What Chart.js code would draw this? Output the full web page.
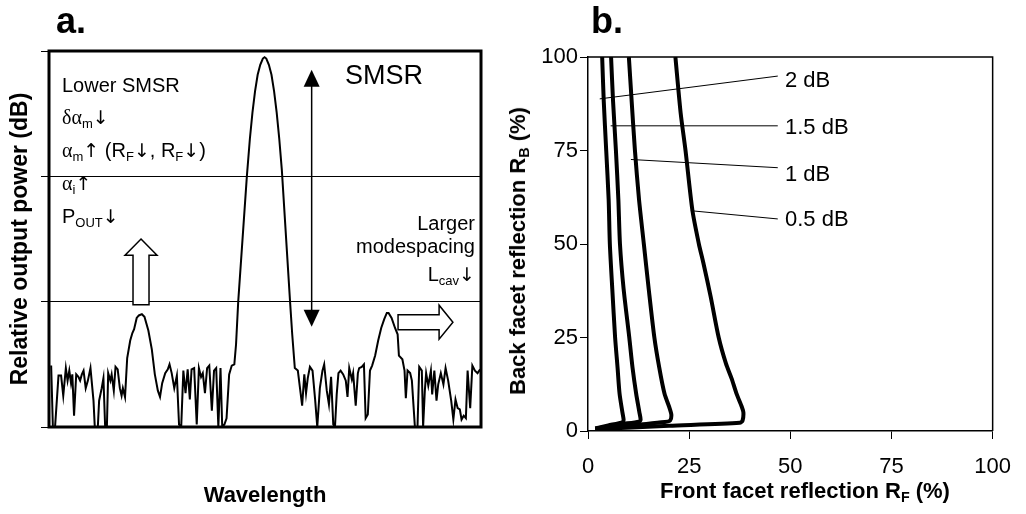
<!DOCTYPE html>
<html>
<head>
<meta charset="utf-8">
<script src="https://cdn.jsdelivr.net/npm/chart.js@4.4.1/dist/chart.umd.min.js"></script>
<style>
  body { margin: 0; background: #fff; }
  #wrap { position: relative; width: 1026px; height: 514px; font-family: "Liberation Sans", Arial, sans-serif; color: #000; }
  canvas { position: absolute; top: 0; }
  #chartA { left: 0; }
  #chartB { left: 500px; }
  .t { position: absolute; line-height: 1; white-space: nowrap; }
  .g { font-family: "Liberation Serif", "Times New Roman", serif; }
  .ar { font-family: "DejaVu Sans", sans-serif; font-size: 0.95em; }
  sub { font-size: 0.65em; vertical-align: -0.3em; line-height: 0; }
</style>
</head>
<body>
<div id="wrap">
  <canvas id="chartA" width="500" height="514"></canvas>
  <canvas id="chartB" width="526" height="514"></canvas>

  <div class="t" style="left:56px; top:3px; font-size:36px; font-weight:bold;">a.</div>
  <div class="t" style="left:591px; top:3px; font-size:36px; font-weight:bold;">b.</div>

  <div class="t" style="left:62px; top:75px; font-size:20px;">Lower SMSR</div>
  <div class="t" style="left:62px; top:107px; font-size:20px;"><span class="g">δα</span><sub>m</sub><span class="ar">↓</span></div>
  <div class="t" style="left:62px; top:140px; font-size:20px;"><span class="g">α</span><sub>m</sub><span class="ar">↑</span> (R<sub>F</sub><span class="ar">↓</span>, R<sub>F</sub><span class="ar">↓</span>)</div>
  <div class="t" style="left:62px; top:173px; font-size:20px;"><span class="g">α</span><sub>i</sub><span class="ar">↑</span></div>
  <div class="t" style="left:62px; top:206px; font-size:20px;">P<sub>OUT</sub><span class="ar">↓</span></div>
  <div class="t" style="left:345px; top:62px; font-size:27px;">SMSR</div>
  <div class="t" style="right:551px; top:213px; font-size:20px; text-align:right;">Larger</div>
  <div class="t" style="right:551px; top:236px; font-size:20px; text-align:right;">modespacing</div>
  <div class="t" style="right:551px; top:264px; font-size:20px; text-align:right;">L<sub>cav</sub><span class="ar">↓</span></div>

  <div class="t" style="left:785px; top:69px; font-size:22px;">2 dB</div>
  <div class="t" style="left:785px; top:116px; font-size:22px;">1.5 dB</div>
  <div class="t" style="left:785px; top:163px; font-size:22px;">1 dB</div>
  <div class="t" style="left:785px; top:208px; font-size:22px;">0.5 dB</div>

  <div class="t" style="left:518px; top:251px; font-size:22px; font-weight:bold; transform:translate(-50%,-50%) rotate(-90deg);">Back facet reflection R<sub>B</sub> (%)</div>
  <div class="t" style="left:805px; top:491px; font-size:22px; font-weight:bold; transform:translate(-50%,-50%);">Front facet reflection R<sub>F</sub> (%)</div>
</div>

<script>
// panel a: spectrum (wavelength in arbitrary units, power in grid divisions)
const wavelength = [
  0.5, 0.9, 1.4, 2.2, 2.8, 3.3, 3.9, 4.3, 4.7, 5.1, 5.4, 5.8, 6.3, 6.8, 7.2, 7.6, 8.0, 8.5, 9.0, 9.6,
  10.3, 10.6, 11.3, 11.6, 12.2, 12.6, 13.0, 13.4, 13.7, 14.2, 14.5, 15.0, 15.4, 15.9, 16.4, 16.8, 17.1, 17.6,
  18.1, 18.8, 19.3, 19.7, 20.3, 20.8, 21.5, 22.1, 23.0, 23.8, 24.5, 25.2, 25.7, 26.2, 26.9, 27.5, 27.9,
  28.4, 29.0, 29.6, 30.1, 30.6, 31.1, 31.6, 32.1, 32.6, 33.0, 33.6, 34.2, 34.7, 35.2, 35.6, 36.1, 36.6,
  37.1, 37.7, 38.2, 38.7, 39.2, 39.7, 40.1, 40.6, 41.1, 41.7, 42.3, 42.9, 43.3, 43.8,
  45.8, 46.5, 47.1, 47.7, 48.3, 48.9, 49.5, 49.9, 50.3, 50.9, 51.5, 52.1, 52.7, 53.3, 53.9,
  55.8, 56.3, 56.9, 57.6, 58.1, 58.6, 59.1, 59.5, 59.9, 60.4, 61.0, 61.6, 62.1, 62.7, 63.3, 63.7, 64.3,
  64.8, 65.3, 65.8, 66.2, 66.6, 67.0, 67.5, 68.1, 68.7, 69.1, 69.5, 70.1, 70.4, 71.0, 71.5, 71.8, 72.4,
  72.9, 73.3, 73.8, 74.3, 74.8, 75.5, 76.2, 76.9, 77.6, 78.2, 78.6, 79.3, 80.1, 80.7, 81.0, 81.8, 82.3,
  82.6, 83.0, 83.6, 84.0, 84.3, 84.7, 85.3, 85.7, 86.3, 86.6, 87.0, 87.3, 87.8, 88.4, 88.7, 89.2, 89.7,
  90.1, 90.7, 91.3, 91.8, 92.4, 93.1, 93.6, 94.1, 94.6, 95.1, 95.5, 96.0, 96.5, 96.9, 97.5, 98.0, 98.6,
  99.2, 99.8
];
const power = [
  0.49, 0, 0, 0.41, 0.41, 0.25, 0.47, 0.37, 0.45, 0.35, 0.42, 0.09, 0.42, 0.40, 0.37, 0.42, 0.45, 0.31, 0.37, 0.47,
  0.21, 0, 0, 0.21, 0.31, 0.39, 0, 0, 0.43, 0.37, 0.42, 0.29, 0.48, 0.46, 0.31, 0.25, 0.31, 0.24,
  0.55, 0.69, 0.75, 0.78, 0.87, 0.89, 0.90, 0.88, 0.77, 0.62, 0.42, 0.29, 0.24, 0.35, 0.43, 0.46, 0.50,
  0.43, 0.31, 0.41, 0.02, 0, 0.45, 0.27, 0.46, 0.22, 0.46, 0.47, 0.02, 0.47, 0.40, 0.43, 0.27, 0.47,
  0.49, 0.13, 0.45, 0.47, 0, 0.47, 0, 0.02, 0.07, 0.42, 0.49, 0.50, 0.66, 1.0,
  2.0, 2.30, 2.51, 2.68, 2.81, 2.89, 2.94, 2.95, 2.94, 2.89, 2.81, 2.68, 2.51, 2.30, 2.05,
  1.0, 0.74, 0.47, 0.45, 0.31, 0.17, 0.42, 0.27, 0.39, 0.48, 0.45, 0.22, 0, 0.31, 0.45, 0.50, 0.29,
  0.18, 0.40, 0.02, 0, 0.26, 0.43, 0.45, 0.42, 0.37, 0.24, 0.47, 0.38, 0.43, 0.17, 0.43, 0.47, 0.48,
  0.50, 0.07, 0.10, 0.45, 0.49, 0.57, 0.69, 0.79, 0.86, 0.91, 0.91, 0.87, 0.79, 0.74, 0.57, 0.54, 0.45,
  0.23, 0.45, 0.43, 0.37, 0.21, 0, 0, 0.48, 0.45, 0, 0.29, 0.43, 0.33, 0.45, 0.26, 0.45, 0.21,
  0.34, 0.43, 0.34, 0.47, 0.37, 0.21, 0.06, 0.22, 0.15, 0.14, 0.06, 0.09, 0.07, 0.45, 0.15, 0.49, 0.45,
  0.43, 0.46
];
const powerGrid = [0, 1, 2, 3];

// panel b: constant-loss curves, front facet RF (%) vs back facet RB (%)
const rf2dB  = [3.5, 3.9, 4.5, 5.1, 5.4, 6.0, 6.7, 7.3, 7.8, 8.5, 8.8, 8.6, 5.0, 1.8];
const rb2dB  = [100, 88, 75, 62, 50, 38, 25, 17, 10, 5, 3, 2.4, 1.5, 0.7];
const rf15dB = [5.7, 6.2, 6.9, 7.5, 7.9, 8.8, 10.2, 11.0, 11.9, 12.7, 13.0, 12.6, 8.0, 1.8];
const rb15dB = [100, 88, 75, 62, 50, 38, 25, 17, 10, 5, 3, 2.5, 1.8, 0.6];
const rf1dB  = [10.1, 10.8, 11.6, 12.6, 13.8, 15.0, 16.4, 17.6, 18.9, 20.2, 20.6, 20.3, 19.0, 1.8];
const rb1dB  = [100, 88, 75, 62, 50, 38, 25, 17, 10, 6, 4.3, 2.8, 2.4, 0.6];
const rf05dB = [21.6, 22.9, 24.1, 25.8, 27.4, 28.5, 30.3, 32.3, 34.1, 35.5, 36.7, 38.0, 38.4, 38.2, 37.5, 20.0, 1.8];
const rb05dB = [100, 85, 75, 59, 50, 45, 36, 25, 18, 14, 10, 6.5, 5, 2.8, 2.2, 1.4, 0.5];
const reflTicks = [0, 25, 50, 75, 100];

Chart.defaults.font.family = '"Liberation Sans", Arial, sans-serif';
Chart.defaults.color = '#000';

const toPoints = (xs, ys) => xs.map((v, i) => ({ x: v, y: ys[i] }));

const panelAMarks = {
    id: 'panelAMarks',
    afterDatasetsDraw(chart) {
        const { ctx, chartArea: a, scales: { x, y } } = chart;
        ctx.save();
        ctx.strokeStyle = '#000';
        ctx.fillStyle = '#000';

        // SMSR double arrow
        const ax = x.getPixelForValue(60.8);
        const top = y.getPixelForValue(2.85);
        const bot = y.getPixelForValue(0.8);
        ctx.lineWidth = 1.5;
        ctx.beginPath();
        ctx.moveTo(ax, top + 10);
        ctx.lineTo(ax, bot - 10);
        ctx.stroke();
        ctx.beginPath();
        ctx.moveTo(ax, top); ctx.lineTo(ax + 8, top + 17); ctx.lineTo(ax - 8, top + 17); ctx.closePath();
        ctx.fill();
        ctx.beginPath();
        ctx.moveTo(ax, bot); ctx.lineTo(ax + 8, bot - 17); ctx.lineTo(ax - 8, bot - 17); ctx.closePath();
        ctx.fill();

        // hollow arrows
        ctx.fillStyle = '#fff';
        ctx.lineWidth = 1.5;
        const ux = x.getPixelForValue(21.3);
        const uTip = y.getPixelForValue(1.5), uBase = y.getPixelForValue(1.37), uBot = y.getPixelForValue(0.976);
        ctx.beginPath();
        ctx.moveTo(ux, uTip);
        ctx.lineTo(ux + 16, uBase); ctx.lineTo(ux + 8, uBase); ctx.lineTo(ux + 8, uBot);
        ctx.lineTo(ux - 8, uBot); ctx.lineTo(ux - 8, uBase); ctx.lineTo(ux - 16, uBase);
        ctx.closePath();
        ctx.fill(); ctx.stroke();

        const r0 = x.getPixelForValue(80.8), rb = x.getPixelForValue(90.3), rt = x.getPixelForValue(93.5);
        const ry = y.getPixelForValue(0.836);
        ctx.beginPath();
        ctx.moveTo(r0, ry - 7.5); ctx.lineTo(rb, ry - 7.5); ctx.lineTo(rb, ry - 17); ctx.lineTo(rt, ry);
        ctx.lineTo(rb, ry + 17); ctx.lineTo(rb, ry + 7.5); ctx.lineTo(r0, ry + 7.5);
        ctx.closePath();
        ctx.fill(); ctx.stroke();

        // frame
        ctx.lineWidth = 3;
        ctx.strokeRect(a.left, a.top, a.right - a.left, a.bottom - a.top);
        ctx.restore();
    }
};

const panelBMarks = {
    id: 'panelBMarks',
    afterDatasetsDraw(chart) {
        const { ctx, chartArea: a, scales: { x, y } } = chart;
        ctx.save();
        ctx.strokeStyle = '#000';
        ctx.lineWidth = 1.5;
        ctx.beginPath();
        ctx.moveTo(a.left, a.top); ctx.lineTo(a.right, a.top); ctx.lineTo(a.right, a.bottom);
        ctx.stroke();

        // leader lines from the labels to the curves
        const leaders = [[46.9, 94.9, 2.9, 88.8], [46.9, 81.6, 5.6, 81.6], [46.9, 70.4, 10.6, 72.6], [46.9, 56.7, 25.4, 58.9]];
        ctx.lineWidth = 1;
        leaders.forEach(([x1, y1, x2, y2]) => {
            ctx.beginPath();
            ctx.moveTo(x.getPixelForValue(x1), y.getPixelForValue(y1));
            ctx.lineTo(x.getPixelForValue(x2), y.getPixelForValue(y2));
            ctx.stroke();
        });
        ctx.restore();
    }
};

new Chart(document.getElementById('chartA'), {
    type: 'line',
    data: {
        datasets: [{
            data: toPoints(wavelength, power),
            borderColor: '#000',
            borderWidth: 2,
            pointRadius: 0,
            tension: 0
        }]
    },
    options: {
        responsive: false,
        animation: false,
        layout: { padding: { top: 51, right: 19, left: 0, bottom: 0 } },
        scales: {
            x: {
                type: 'linear',
                min: 0,
                max: 100,
                grid: { display: false },
                border: { display: false },
                ticks: { display: false },
                title: { display: true, text: 'Wavelength', font: { size: 22, weight: 'bold' }, padding: { top: 0, bottom: 5 } },
                afterFit: (s) => { s.height = 87; }
            },
            y: {
                min: powerGrid[0],
                max: powerGrid[powerGrid.length - 1],
                afterBuildTicks: (s) => { s.ticks = powerGrid.map(v => ({ value: v })); },
                grid: { color: '#000', lineWidth: 1, tickLength: 8 },
                border: { display: false },
                ticks: { display: false },
                title: { display: true, text: 'Relative output power (dB)', font: { size: 23, weight: 'bold' }, padding: { top: 7, bottom: 0 } },
                afterFit: (s) => { s.width = 49; }
            }
        },
        plugins: { legend: { display: false }, tooltip: { enabled: false } }
    },
    plugins: [panelAMarks]
});

const curveSet = [[rf2dB, rb2dB], [rf15dB, rb15dB], [rf1dB, rb1dB], [rf05dB, rb05dB]];

new Chart(document.getElementById('chartB'), {
    type: 'scatter',
    data: {
        datasets: curveSet.map(([xs, ys]) => ({
            data: toPoints(xs, ys),
            showLine: true,
            borderColor: '#000',
            borderWidth: 4,
            pointRadius: 0,
            tension: 0.25
        }))
    },
    options: {
        responsive: false,
        animation: false,
        layout: { padding: { top: 57, right: 24, left: 0, bottom: 0 } },
        scales: {
            x: {
                type: 'linear',
                min: 0,
                max: 100,
                afterBuildTicks: (s) => { s.ticks = reflTicks.map(v => ({ value: v })); },
                grid: { drawOnChartArea: false, color: '#000', tickLength: 8 },
                border: { display: true, color: '#000', width: 1.5 },
                ticks: { font: { size: 22 }, padding: 15, maxRotation: 0 },
                afterFit: (s) => { s.height = 83; }
            },
            y: {
                min: 0,
                max: 100,
                afterBuildTicks: (s) => { s.ticks = reflTicks.map(v => ({ value: v })); },
                grid: { drawOnChartArea: false, color: '#000', tickLength: 8 },
                border: { display: true, color: '#000', width: 1.5 },
                ticks: { font: { size: 22 }, padding: 2 },
                afterFit: (s) => { s.width = 88; }
            }
        },
        plugins: { legend: { display: false }, tooltip: { enabled: false } }
    },
    plugins: [panelBMarks]
});
</script>
</body>
</html>
